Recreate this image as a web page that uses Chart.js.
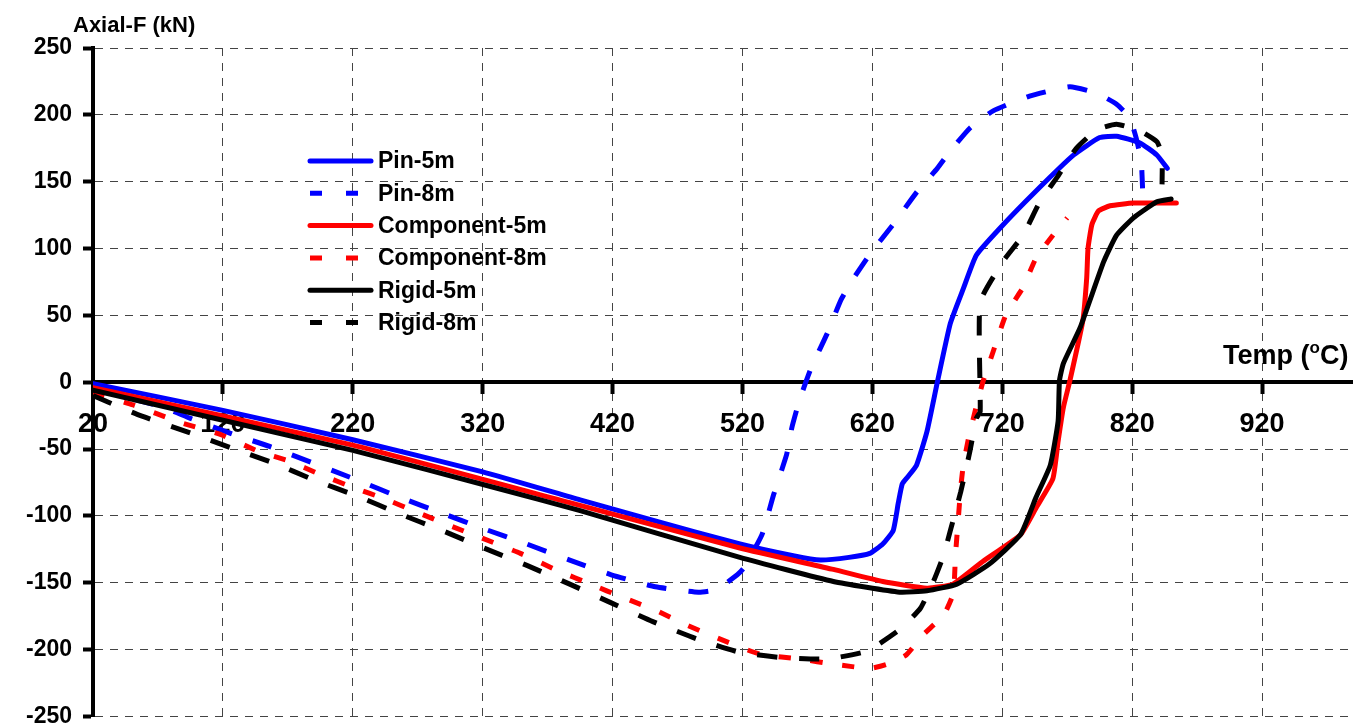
<!DOCTYPE html>
<html>
<head>
<meta charset="utf-8">
<title>Axial force vs temperature</title>
<script src="https://cdn.jsdelivr.net/npm/chart.js@4.4.1/dist/chart.umd.min.js"></script>
<style>
    html, body { margin: 0; padding: 0; background: #fff; overflow: hidden; }
    /* a little taller than the window: the -250 label is cut at the bottom, as in the original */
    #wrap { position: relative; width: 1353px; height: 739px; }
</style>
</head>
<body>
<div id="wrap"><canvas id="axial-force-chart"></canvas></div>
<script>
// DATA (temperature in degC, axial force in kN)
const xTicks = [20, 120, 220, 320, 420, 520, 620, 720, 820, 920];
const yTicks = [-250, -200, -150, -100, -50, 0, 50, 100, 150, 200, 250];

const pin5T = [20, 120, 220, 320, 395, 450, 518, 560, 580, 602, 618, 628, 636, 640, 643, 647, 654, 662, 670, 680, 690, 700, 718, 746, 775, 795, 808, 826, 839, 847];
const pin5F = [-1, -21, -43, -67, -88, -103, -121, -130, -133, -131, -128, -121, -111, -90, -76, -71, -62, -37, 0, 44, 70, 95, 115, 143, 170, 183, 184, 179, 170, 160];

const pin8T = [20, 72, 95, 128, 156, 223, 256, 289, 322, 354, 387, 419, 453, 486, 500, 516, 521, 535, 544, 554, 558, 564, 573, 585, 590, 596, 605, 619, 636, 654, 670, 680, 695, 713, 741, 772, 793, 808, 818, 823, 827, 828];
const pin8F = [-5, -18, -27, -39, -48, -73, -86, -98, -110, -121, -133, -144, -153, -157, -155, -144, -139, -114, -84, -54, -34, -13, 11, 36, 48, 62, 77, 97, 118, 142, 160, 173, 190, 203, 214, 221, 216, 208, 198, 183, 165, 145];

const comp5T = [20, 220, 387, 518, 590, 628, 662, 682, 705, 734, 746, 759, 763, 767, 772, 782, 785, 786, 789, 794, 803, 821, 854];
const comp5F = [-4, -47, -90, -124, -140, -149, -154, -151, -134, -114, -94, -72, -44, -19, 1, 46, 78, 100, 118, 128, 132, 134, 134];

const comp8T = [20, 51, 87, 118, 148, 171, 195, 221, 244, 269, 294, 318, 349, 378, 403, 428, 454, 478, 500, 526, 536, 564, 591, 618, 631, 646, 659, 675, 682, 683, 684, 686, 688, 690, 694, 699, 705, 713, 723, 736, 746, 759, 770];
const comp8F = [-8, -17, -30, -39, -52, -59, -69, -79, -87, -97, -107, -116, -128, -141, -151, -161, -171, -182, -191, -201, -204, -207, -211, -214, -211, -204, -189, -174, -159, -151, -129, -104, -79, -62, -42, -22, 0, 23, 51, 71, 93, 110, 123];

const rigid5T = [20, 220, 334, 395, 518, 590, 641, 662, 685, 710, 734, 746, 757, 763, 764, 767, 780, 798, 808, 821, 839, 850];
const rigid5F = [-6, -51, -80, -96, -131, -149, -157, -156, -151, -136, -114, -86, -62, -29, 1, 14, 41, 90, 110, 123, 135, 137];

const rigid8T = [20, 54, 95, 126, 158, 190, 223, 255, 289, 321, 354, 387, 419, 451, 485, 518, 551, 585, 616, 641, 657, 667, 675, 680, 688, 695, 700, 703, 703, 721, 736, 749, 762, 777, 793, 808, 826, 839, 843, 843];
const rigid8F = [-10, -24, -38, -49, -60, -73, -85, -98, -111, -124, -137, -151, -165, -179, -192, -202, -206, -207, -201, -185, -169, -149, -129, -111, -82, -52, -27, -22, 60, 91, 110, 135, 153, 175, 189, 193, 188, 180, 170, 148];

const seriesNames = ['Pin-5m', 'Pin-8m', 'Component-5m', 'Component-8m', 'Rigid-5m', 'Rigid-8m'];
const seriesColors = ['#0000FF', '#0000FF', '#FF0000', '#FF0000', '#000000', '#000000'];

window.addEventListener('load', function () {
    axialForceChart();
})

function toPoints(xs, ys) {
    return xs.map((x, i) => ({ x: x, y: ys[i] }));
}

// LEGEND + AXIS TITLES (drawn on the canvas, top left and right)
const extraText = {
    id: 'extraText',
    afterDatasetsDraw(chart) {
        const ctx = chart.ctx;
        ctx.save();
        ctx.fillStyle = '#000';
        ctx.textBaseline = 'alphabetic';

        // y axis title
        ctx.font = 'bold 22px "Liberation Sans", Arial, sans-serif';
        ctx.textAlign = 'left';
        ctx.fillText('Axial-F (kN)', 73, 32);

        // x axis title with superscript o
        let x = 1223;
        const base = 364;
        ctx.font = 'bold 27px "Liberation Sans", Arial, sans-serif';
        ctx.fillText('Temp (', x, base);
        x += ctx.measureText('Temp (').width;
        ctx.font = 'bold 17px "Liberation Sans", Arial, sans-serif';
        ctx.fillText('o', x, base - 11);
        x += ctx.measureText('o').width;
        ctx.font = 'bold 27px "Liberation Sans", Arial, sans-serif';
        ctx.fillText('C)', x, base);

        // legend
        ctx.font = 'bold 23px "Liberation Sans", Arial, sans-serif';
        ctx.textBaseline = 'middle';
        chart.data.datasets.forEach((ds, i) => {
            const y = 161 + i * 32.3;
            ctx.strokeStyle = ds.borderColor;
            ctx.lineWidth = 5;
            ctx.beginPath();
            if (ds.borderDash && ds.borderDash.length) {
                ctx.lineCap = 'butt';
                ctx.setLineDash([12, 24]);
                ctx.moveTo(310, y);
                ctx.lineTo(358, y);
            } else {
                ctx.lineCap = 'round';
                ctx.setLineDash([]);
                ctx.moveTo(310, y);
                ctx.lineTo(371, y);
            }
            ctx.stroke();
            ctx.setLineDash([]);
            ctx.fillText(ds.label, 378, y + 1);
        });
        ctx.restore();
    }
};

// AXIAL FORCE CHART
function axialForceChart() {
    const ctx = document.getElementById('axial-force-chart').getContext('2d');
    const xs = [pin5T, pin8T, comp5T, comp8T, rigid5T, rigid8T];
    const ys = [pin5F, pin8F, comp5F, comp8F, rigid5F, rigid8F];

    const datasets = seriesNames.map((name, i) => {
        const dashed = i % 2 === 1;
        return {
            label: name,
            data: toPoints(xs[i], ys[i]),
            borderColor: seriesColors[i],
            backgroundColor: seriesColors[i],
            borderWidth: 5,
            borderDash: dashed ? (i === 3 ? [12, 20] : [20, 22]) : [],
            borderCapStyle: dashed ? 'butt' : 'round',
            borderJoinStyle: 'round',
            pointRadius: 0,
            tension: 0.15,
            fill: false,
            order: seriesNames.length - i // later series on top
        };
    });

    new Chart(ctx, {
        type: 'line',
        data: { datasets: datasets },
        options: {
            responsive: true,
            maintainAspectRatio: false,
            animation: false,
            layout: {
                padding: { top: 48, right: 0, bottom: 0, left: 0 }
            },
            plugins: {
                legend: { display: false },
                tooltip: { enabled: false },
                title: { display: false }
            },
            scales: {
                x: {
                    type: 'linear',
                    position: { y: 0 },
                    min: 20,
                    max: 990,
                    afterBuildTicks: (axis) => {
                        axis.ticks = xTicks.map(v => ({ value: v }));
                    },
                    afterFit: (axis) => {
                        // axis sits at y = 0 inside the plot, it needs no room below
                        axis.height = 0;
                        axis.paddingLeft = 0;
                        axis.paddingRight = 0;
                    },
                    ticks: {
                        autoSkip: false,
                        maxRotation: 0,
                        padding: 16,
                        color: '#000',
                        font: { family: '"Liberation Sans", Arial, sans-serif', size: 27, weight: 'bold' }
                    },
                    grid: {
                        color: '#444',
                        lineWidth: 1,
                        drawTicks: true,
                        tickLength: 10,
                        tickWidth: 4,
                        tickColor: '#000',
                        tickBorderDash: []
                    },
                    border: { display: true, color: '#000', width: 4, dash: [8, 7] }
                },
                y: {
                    type: 'linear',
                    position: 'left',
                    min: -250,
                    max: 250,
                    afterBuildTicks: (axis) => {
                        axis.ticks = yTicks.map(v => ({ value: v }));
                    },
                    afterFit: (axis) => {
                        axis.width = 93;
                    },
                    ticks: {
                        padding: 11,
                        color: '#000',
                        font: { family: '"Liberation Sans", Arial, sans-serif', size: 23, weight: 'bold', lineHeight: 1 }
                    },
                    grid: {
                        color: '#444',
                        lineWidth: 1,
                        drawTicks: true,
                        tickLength: 10,
                        tickWidth: 4,
                        tickColor: '#000',
                        tickBorderDash: []
                    },
                    border: { display: true, color: '#000', width: 4, dash: [8, 7] }
                }
            }
        },
        plugins: [extraText]
    });
}
</script>
</body>
</html>
